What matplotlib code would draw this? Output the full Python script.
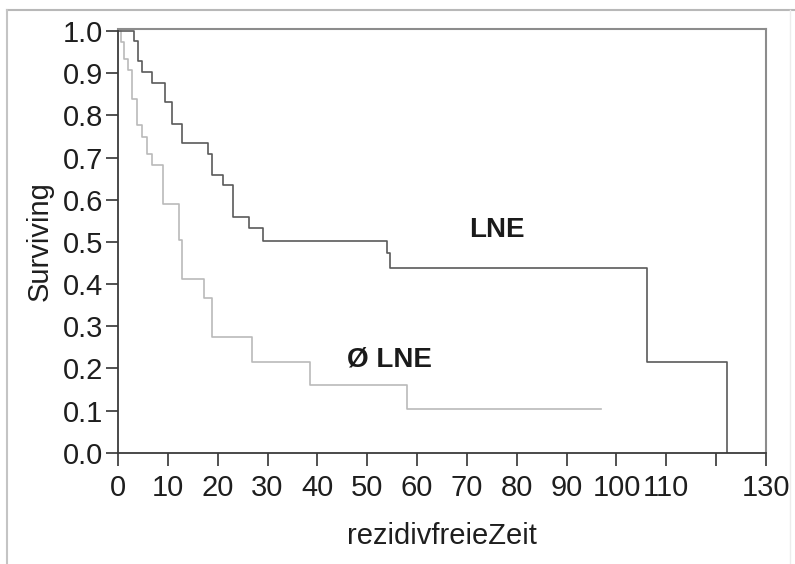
import matplotlib
matplotlib.use("Agg")
import matplotlib.pyplot as plt
from matplotlib.lines import Line2D

plt.rcParams['font.family'] = ['Liberation Sans', 'DejaVu Sans']

# Kaplan-Meier Stufen (Ereigniszeit, Überleben nach dem Ereignis)
lne_t = [3.3, 4.0, 4.8, 6.8, 9.4, 10.8, 12.8, 18.1, 18.8, 21.0, 23.0, 26.2, 29.0,
         53.9, 54.6, 106.2, 122.2]
lne_s = [0.977, 0.930, 0.904, 0.878, 0.831, 0.779, 0.735, 0.709, 0.658, 0.636, 0.558,
         0.533, 0.502, 0.474, 0.439, 0.216, 0.0]
lne_end = 122.2

nolne_t = [0.7, 1.3, 2.0, 2.8, 3.9, 4.8, 5.8, 6.8, 9.1, 12.2, 12.8, 17.3, 18.8, 26.9,
           38.5, 57.9]
nolne_s = [0.974, 0.934, 0.907, 0.840, 0.777, 0.749, 0.709, 0.682, 0.591, 0.505, 0.411,
           0.368, 0.275, 0.216, 0.161, 0.103]
nolne_end = 96.9

xticks = list(range(0, 140, 10))
xlabels = [str(v) if v != 120 else '' for v in xticks]
yticks = [i / 10 for i in range(11)]


def km_steps(t, s, t_end):
    xs = [0] + list(t)
    ys = [1.0] + list(s)
    if t_end > xs[-1]:
        xs.append(t_end)
        ys.append(ys[-1])
    return xs, ys


fig = plt.figure(figsize=(7.95, 5.64), dpi=100)
ax = fig.add_axes([0.1484, 0.1973, 0.8151, 0.7513])

x, y = km_steps(nolne_t, nolne_s, nolne_end)
ax.step(x, y, where='post', color='#bababa', lw=1.2)
x, y = km_steps(lne_t, lne_s, lne_end)
ax.step(x, y, where='post', color='#5a5a5a', lw=1.2)

ax.text(76, 0.512, 'LNE', fontsize=20, fontweight='bold', ha='center', va='baseline',
        color='#1a1a1a')
ax.text(54.5, 0.204, 'Ø LNE', fontsize=20, fontweight='bold', ha='center', va='baseline',
        color='#1a1a1a')

ax.set_xlim(0, 130)
ax.set_ylim(0, 1.005)
ax.set_xticks(xticks)
ax.set_xticklabels(xlabels)
ax.set_yticks(yticks)
ax.set_yticklabels([f'{v:.1f}' for v in yticks])
ax.tick_params(direction='out', length=9, width=1.2, color='#333333',
               labelsize=21, labelcolor='#1e1e1e')
ax.tick_params(axis='y', pad=1.5)
ax.tick_params(axis='x', pad=6)

for side in ('top', 'right'):
    ax.spines[side].set_color('#8c8c8c')
    ax.spines[side].set_linewidth(1.5)
for side in ('left', 'bottom'):
    ax.spines[side].set_color('#3a3a3a')
    ax.spines[side].set_linewidth(1.3)

ax.set_xlabel('rezidivfreieZeit', fontsize=21, color='#1e1e1e', labelpad=15)
ax.set_ylabel('Surviving', fontsize=21, color='#1e1e1e', labelpad=7)

# äußerer Rahmen
fig.add_artist(Line2D([0.0094, 1.0], [0.9823, 0.9823], transform=fig.transFigure,
                      color='#b8b8b8', lw=1.5))
fig.add_artist(Line2D([0.0094, 0.0094], [0.0, 0.9823], transform=fig.transFigure,
                      color='#c4c4c4', lw=1.5))
fig.add_artist(Line2D([0.9937, 0.9937], [0.0, 0.9823], transform=fig.transFigure,
                      color='#ececec', lw=1.0))

fig.savefig('out.png', dpi=100)
